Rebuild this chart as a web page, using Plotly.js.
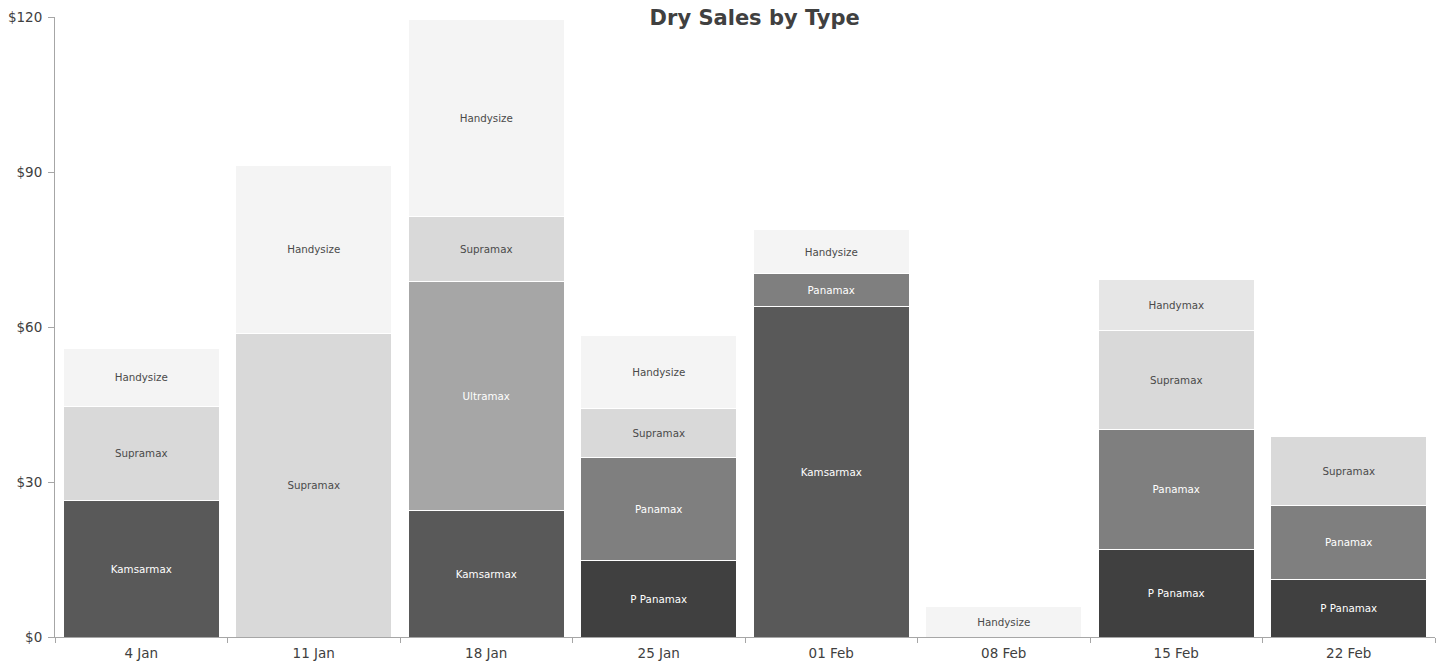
<!DOCTYPE html>
<html>
<head>
<meta charset="utf-8">
<script src="https://cdn.plot.ly/plotly-3.0.1.min.js"></script>
<style>html,body{margin:0;padding:0;background:#fff;}#chart{width:1443px;height:666px;}</style>
</head>
<body>
<div id="chart"></div>
<script>
const categories = ["4 Jan", "11 Jan", "18 Jan", "25 Jan", "01 Feb", "08 Feb", "15 Feb", "22 Feb"];
const pPanamax  = [null, null, null, 14.9, null, null, 17.0, 11.2];
const kamsarmax = [26.5, null, 24.4, null, 63.9, null, null, null];
const panamax   = [null, null, null, 19.9, 6.4, null, 23.1, 14.3];
const ultramax  = [null, null, 44.5, null, null, null, null, null];
const supramax  = [18.2, 58.8, 12.4, 9.5, null, null, 19.3, 13.4];
const handymax  = [null, null, null, null, null, null, 9.7, null];
const handysize = [11.2, 32.5, 38.3, 14.0, 8.5, 6.0, null, null];
const tickVals = [0, 30, 60, 90, 120];
const tickLabels = ["$0", "$30", "$60", "$90", "$120"];

const series = [
  {name: "P Panamax", y: pPanamax, color: "#404040", text: "#ffffff"},
  {name: "Kamsarmax", y: kamsarmax, color: "#595959", text: "#ffffff"},
  {name: "Panamax", y: panamax, color: "#7f7f7f", text: "#ffffff"},
  {name: "Ultramax", y: ultramax, color: "#a6a6a6", text: "#ffffff"},
  {name: "Supramax", y: supramax, color: "#d9d9d9", text: "#4a4a4a"},
  {name: "Handymax", y: handymax, color: "#e6e6e6", text: "#4a4a4a"},
  {name: "Handysize", y: handysize, color: "#f4f4f4", text: "#4a4a4a"}
];

const traces = series.map(s => ({
  type: "bar",
  name: s.name,
  x: categories,
  y: s.y,
  marker: {color: s.color, line: {color: "#ffffff", width: 1}},
  texttemplate: s.name,
  textposition: "inside",
  insidetextanchor: "middle",
  constraintext: "none",
  insidetextfont: {family: "DejaVu Sans, Verdana, sans-serif", size: 10.3, color: s.text},
  hoverinfo: "skip"
}));

const layout = {
  barmode: "stack",
  bargap: 0.095,
  showlegend: false,
  paper_bgcolor: "#ffffff",
  plot_bgcolor: "#ffffff",
  margin: {l: 55, r: 8, t: 17, b: 29},
  font: {family: "DejaVu Sans, Verdana, sans-serif", color: "#404040", size: 12},
  title: {
    text: "<b>Dry Sales by Type</b>",
    font: {family: "DejaVu Sans, Verdana, sans-serif", size: 21, color: "#404040"},
    xref: "container", yref: "container",
    x: 0.523, y: 0.974, xanchor: "center", yanchor: "middle"
  },
  xaxis: {
    type: "category",
    showgrid: false,
    showline: true,
    linecolor: "#a6a6a6",
    linewidth: 1,
    ticks: "outside",
    tickson: "boundaries",
    ticklen: 5,
    tickcolor: "#a6a6a6",
    ticklabelstandoff: 4,
    tickfont: {size: 13.5, color: "#404040"},
    zeroline: false
  },
  yaxis: {
    range: [0, 120],
    tickvals: tickVals,
    ticktext: tickLabels,
    showgrid: false,
    showline: true,
    linecolor: "#a6a6a6",
    linewidth: 1,
    ticks: "outside",
    ticklen: 6,
    tickcolor: "#a6a6a6",
    ticklabelstandoff: 3,
    tickfont: {size: 13.5, color: "#404040"},
    zeroline: false
  }
};

Plotly.newPlot("chart", traces, layout, {displayModeBar: false, staticPlot: true});
</script>
</body>
</html>
